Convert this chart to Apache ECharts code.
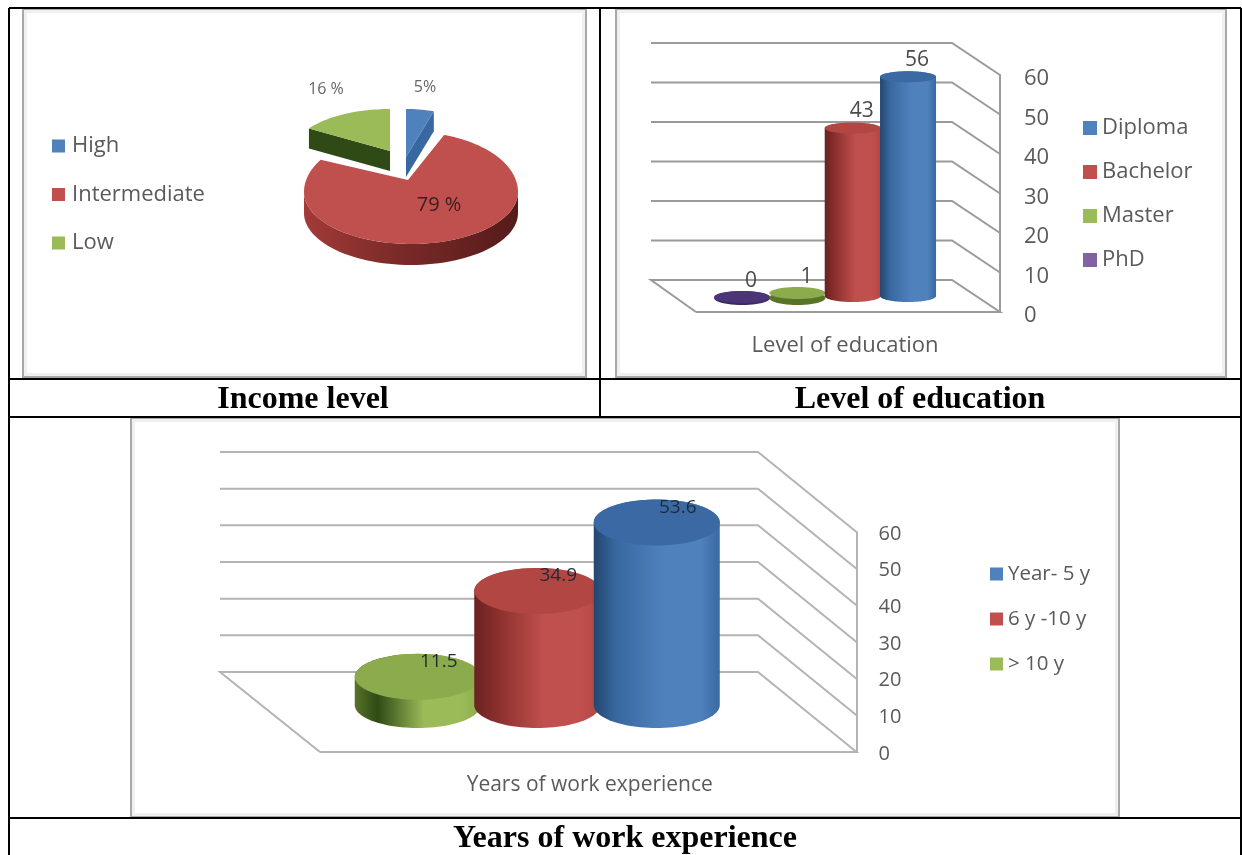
<!DOCTYPE html>
<html><head><meta charset="utf-8">
<style>html,body{margin:0;padding:0;background:#fff}#c{width:1242px;height:855px}</style>
<script src="https://cdn.jsdelivr.net/npm/echarts@6/dist/echarts.min.js"></script>
</head><body><div id="c"></div>
<script>
// ---- data ----
const incomeLabels = ['High', 'Intermediate', 'Low'];
const incomeValues = [5, 79, 16];
const incomeTexts = ['5%', '79 %', '16 %'];
const educationLabels = ['Diploma', 'Bachelor', 'Master', 'PhD'];
const educationValues = [56, 43, 1, 0];
const experienceLabels = ['Year- 5 y', '6 y -10 y', '> 10 y'];
const experienceValues = [53.6, 34.9, 11.5];
const experienceTexts = ['53.6', '34.9', '11.5'];
const valueTicks = [0, 10, 20, 30, 40, 50, 60];
const captions = ['Income level', 'Level of education', 'Years of work experience'];

// ---- styles ----
const FONT = '"Open Sans", sans-serif';
const INK = '#5a5a5a';
const palette = {
  blue:   {base:'#4f81bd', dark:'#234670', top:'#3a69a3', side:'#38689f'},
  red:    {base:'#c0504d', dark:'#6a2220', top:'#b24643', side:'#8a2f2d'},
  green:  {base:'#9bbb59', dark:'#587429', top:'#8cab4c', side:'#2f4a14'},
  purple: {base:'#8064a2', dark:'#3c2a60', top:'#4b3477', side:'#3c2a60'}
};
const L = (stops, x2=1, y2=0) => new echarts.graphic.LinearGradient(0,0,x2,y2,
  stops.map(s=>({offset:s[0], color:s[1]})));

// ---- 3D pie ----
const sliceGeom = [
  {tip:[406,157], c:[406,157], rx:90, ryT:48, ryB:48, depth:20, col:'blue',  label:[425,87], fs:16, fill:'#666'},
  {tip:[408,180], c:[411,192], rx:107, ryT:60, ryB:52, depth:21, col:'red',  label:[439,205], fs:20, fill:'#3a2020'},
  {tip:[390,151], c:[390,151], rx:96, ryT:42, ryB:42, depth:20, col:'green', label:[326,89], fs:16, fill:'#666'}
];
const total = incomeValues.reduce((a,b)=>a+b,0);
function sliceSeries(idx){
  const g = sliceGeom[idx], p = palette[g.col];
  const start = incomeValues.slice(0,idx).reduce((a,b)=>a+b,0)/total*Math.PI*2;
  return {
    type:'custom', name:incomeLabels[idx], coordinateSystem:'none', silent:true, z:3,
    itemStyle:{color:p.base},
    data:[[incomeValues[idx]]],
    renderItem(params, api){
      const sweep = api.value(0)/total*Math.PI*2, end = start+sweep;
      const pt = a => { const cs=Math.cos(a); return [g.c[0]+g.rx*Math.sin(a), g.c[1]-(cs>0?g.ryT:g.ryB)*cs]; };
      const arc=[]; const n=Math.max(6,Math.round(sweep*30));
      for(let i=0;i<=n;i++) arc.push(pt(start+sweep*i/n));
      const kids=[];
      const down = q => [q[0],q[1]+g.depth];
      const from=Math.max(start,Math.PI/2), to=Math.min(end,Math.PI*1.5);
      if(to>from){
        const o=[]; for(let i=0;i<=60;i++) o.push(pt(from+(to-from)*i/60));
        kids.push({type:'polygon',shape:{points:o.concat(o.slice().reverse().map(down))},
          style:{fill:L([[0,'#a23a38'],[0.45,'#7a2a28'],[1,'#551b1a']])}});
      }
      if(g.col==='green'){
        const a=arc[0];
        kids.push({type:'polygon',shape:{points:[a,g.tip,down(g.tip),down(a)]},style:{fill:p.side}});
      }
      if(g.col==='blue'){
        const a=arc[arc.length-1];
        kids.push({type:'polygon',shape:{points:[g.tip,a,down(a),down(g.tip)]},style:{fill:p.side}});
      }
      kids.push({type:'polygon',shape:{points:[g.tip].concat(arc)},style:{fill:p.base}});
      kids.push({type:'text',style:{text:incomeTexts[idx],x:g.label[0],y:g.label[1],fill:g.fill,
        fontSize:g.fs,fontFamily:FONT,align:'center',verticalAlign:'middle'}});
      return {type:'group',children:kids};
    }
  };
}

// ---- 3D cylinder charts ----
const layout2 = {grid:0, bx0:651,bx1:952,fx0:696,fx1:1000,dy:32,
  rx:28, ryTop:5.5, ryBase:6, topShift:-14, baseShift:-16, labelDx:9, labelDy:-17, fs:21, labelFill:'#4a4a4a', line:'#9a9a9a', flatRy:7};
const layout3 = {grid:1, bx0:220,bx1:758,fx0:320,fx1:856.5,dy:80,
  rx:63, ryTop:23, ryBase:23, topShift:-33, baseShift:-47, labelDx:21, labelDy:-15, fs:19, labelFill:'#1f2a38', line:'#b4b4b4', flatRy:23};

function wallSeries(lay){
  return {
    type:'custom', coordinateSystem:'cartesian2d', xAxisIndex:lay.grid, yAxisIndex:lay.grid,
    silent:true, z:1, data:valueTicks.map(t=>[0,t]), encode:{x:0,y:1},
    renderItem(params, api){
      const t=api.value(1), y=api.coord([0,t])[1], by=y-lay.dy;
      const st={fill:null,stroke:lay.line,lineWidth:2};
      const pts=[[lay.bx0,by],[lay.bx1,by],[lay.fx1,y]];
      if(t===0) { pts.unshift([lay.fx0,y]); pts.unshift([lay.bx0,by]); pts.push([lay.fx0,y]); }
      return {type:'polyline',shape:{points:pts},style:st};
    }
  };
}
function cylinderSeries(lay,name,value,text,colKey,order){
  const p=palette[colKey];
  return {
    type:'custom', name, coordinateSystem:'cartesian2d', xAxisIndex:lay.grid, yAxisIndex:lay.grid,
    silent:true, z:2+order*0.01, itemStyle:{color:p.base},
    data:[[name,value]], encode:{x:0,y:1},
    renderItem(params, api){
      const top=api.coord([api.value(0),api.value(1)]), base=api.coord([api.value(0),0]);
      const cx=top[0], ty=top[1]+lay.topShift, by=base[1]+lay.baseShift;
      const ell=(yc,ry,a0,a1)=>{const o=[];for(let i=0;i<=48;i++){const a=a0+(a1-a0)*i/48;o.push([cx+lay.rx*Math.cos(a),yc+ry*Math.sin(a)]);}return o;};
      const tall = by-ty>lay.ryBase;
      const kids=[];
      if(tall){
        const body=ell(by,lay.ryBase,0,Math.PI).concat(ell(ty,lay.ryTop,Math.PI,2*Math.PI));
        kids.push({type:'polygon',shape:{points:body},
          style:{fill:L([[0,p.dark],[0.18,p.side],[0.55,p.base],[0.85,p.base],[1,p.top]])}});
        kids.push({type:'polygon',shape:{points:ell(ty,lay.ryTop,0,2*Math.PI)},style:{fill:p.top}});
      } else {
        kids.push({type:'polygon',shape:{points:ell(by+2,lay.flatRy,0,2*Math.PI)},style:{fill:p.dark}});
        kids.push({type:'polygon',shape:{points:ell(ty-1,lay.flatRy-1,0,2*Math.PI)},style:{fill:p.top}});
      }
      kids.push({type:'text',style:{text:text,x:cx+lay.labelDx,y:ty+lay.labelDy,fill:lay.labelFill,
        fontSize:lay.fs,fontFamily:FONT,align:'center',verticalAlign:'middle'}});
      return {type:'group',children:kids};
    }
  };
}

const eduCols=['blue','red','green','purple'];
const expCols=['blue','red','green'];
const series=[];
[0,1,2].forEach(i=>series.push(sliceSeries(i)));
series.push(wallSeries(layout2), wallSeries(layout3));
educationLabels.map((n,i)=>i).reverse().forEach((i,o)=>
  series.push(cylinderSeries(layout2,educationLabels[i],educationValues[i],String(educationValues[i]),eduCols[i],o)));
experienceLabels.map((n,i)=>i).reverse().forEach((i,o)=>
  series.push(cylinderSeries(layout3,experienceLabels[i],experienceValues[i],experienceTexts[i],expCols[i],o)));

const legendBase={orient:'vertical',selectedMode:false,padding:0,icon:'rect'};
const yAxisBase={type:'value',min:0,max:60,interval:10,position:'right',splitLine:{show:false},axisTick:{show:false}};
const xAxisBase={type:'category',axisLine:{show:false},axisTick:{show:false},axisLabel:{show:false},nameLocation:'middle'};

// ---- table and frames ----
const line=(x1,y1,x2,y2)=>({type:'line',shape:{x1,y1,x2,y2},style:{stroke:'#000',lineWidth:2},z:10});
const frame=(x,y,w,h)=>[
  {type:'rect',shape:{x:x+2,y:y+2,width:w-4,height:h-4},style:{fill:'#fff',stroke:'#f0f0f0',lineWidth:4},z:0},
  {type:'rect',shape:{x,y,width:w,height:h},style:{fill:'none',stroke:'#a8a8a8',lineWidth:2},z:0}
];
const cap=(t,x,y)=>({type:'text',style:{text:t,x,y,fill:'#000',font:'bold 32px "Liberation Serif", serif',align:'center',verticalAlign:'middle'},z:10});
const graphics=[
  line(9,8,1241,8),line(9,379,1241,379),line(9,417,1241,417),line(9,818,1241,818),
  line(9,8,9,855),line(1241,8,1241,855),line(600,8,600,417),
  ...frame(23,9,563,368),...frame(616,9,610,368),...frame(131,418,988,399),
  cap(captions[0],303,400),cap(captions[1],920,400),cap(captions[2],625,839)
];

const chart=echarts.init(document.getElementById('c'),null,{renderer:'canvas'});
chart.setOption({
  animation:false, backgroundColor:'#fff',
  graphic:{elements:graphics},
  legend:[
    {...legendBase,left:52,top:135,itemWidth:13,itemHeight:13,itemGap:26.5,data:incomeLabels,
      textStyle:{color:INK,fontFamily:FONT,fontSize:22,lineHeight:22,padding:[0,0,0,2]}},
    {...legendBase,left:1083,top:117,itemWidth:14,itemHeight:14,itemGap:22,data:educationLabels,
      textStyle:{color:INK,fontFamily:FONT,fontSize:22,lineHeight:22}},
    {...legendBase,left:990,top:563,itemWidth:13,itemHeight:13,itemGap:23,data:experienceLabels,
      textStyle:{color:INK,fontFamily:FONT,fontSize:20.5,lineHeight:22}}
  ],
  grid:[
    {left:714.4,width:221.3,top:75,height:237},
    {left:358,width:358.5,top:532,height:220}
  ],
  xAxis:[
    {...xAxisBase,gridIndex:0,data:educationLabels.slice().reverse(),name:'Level of education',nameGap:23,
      nameTextStyle:{color:INK,fontFamily:FONT,fontSize:22,padding:[0,0,0,40]}},
    {...xAxisBase,gridIndex:1,data:experienceLabels.slice().reverse(),name:'Years of work experience',nameGap:23,
      nameTextStyle:{color:INK,fontFamily:FONT,fontSize:21,padding:[0,0,0,105]}}
  ],
  yAxis:[
    {...yAxisBase,gridIndex:0,offset:64.3,axisLine:{show:true,lineStyle:{color:layout2.line,width:2}},
      axisLabel:{margin:24,color:INK,fontFamily:FONT,fontSize:22,verticalAlign:'top',lineHeight:8}},
    {...yAxisBase,gridIndex:1,offset:140,axisLine:{show:true,lineStyle:{color:layout3.line,width:2}},
      axisLabel:{margin:22,color:INK,fontFamily:FONT,fontSize:20,verticalAlign:'top',lineHeight:4}}
  ],
  series
});
</script></body></html>
